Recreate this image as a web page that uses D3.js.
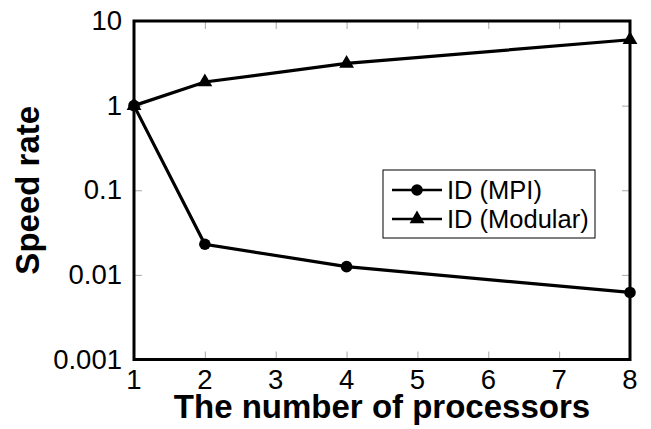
<!DOCTYPE html>
<html>
<head>
<meta charset="utf-8">
<script src="https://cdn.jsdelivr.net/npm/d3@7"></script>
<style>
  body { margin: 0; background: #fff; }
  text { font-family: "Liberation Sans", Arial, Helvetica, sans-serif; fill: #000; }
</style>
</head>
<body>
<div id="chart"></div>
<script>
// values
const processors = [1, 2, 4, 8];
const mpiRate = [1, 0.023, 0.0125, 0.0062];
const modularRate = [1, 1.9, 3.15, 6.0];
const xTicks = [1, 2, 3, 4, 5, 6, 7, 8];
const yTicks = [0.001, 0.01, 0.1, 1, 10];
const yTickLabels = ["0.001", "0.01", "0.1", "1", "10"];
const seriesNames = ["ID (MPI)", "ID (Modular)"];

const width = 651, height = 429;
const margin = {top: 21, right: 21, bottom: 69.5, left: 134};

const svg = d3.select("#chart")
  .append("svg")
    .attr("width", width)
    .attr("height", height);

const x = d3.scaleLinear()
  .domain([1, 8])
  .range([margin.left, width - margin.right]);

const y = d3.scaleLog()
  .domain([0.001, 10])
  .range([height - margin.bottom, margin.top]);

// grey inward ticks on all four sides
const tickLen = 8;
const tickColor = "#a8a8a8";

svg.append("g")
  .attr("transform", "translate(0," + (height - margin.bottom) + ")")
  .call(d3.axisBottom(x).tickValues(xTicks).tickSizeInner(-tickLen).tickSizeOuter(0).tickFormat(""))
  .call(g => g.select(".domain").remove())
  .call(g => g.selectAll("line").attr("stroke", tickColor));

svg.append("g")
  .attr("transform", "translate(0," + margin.top + ")")
  .call(d3.axisTop(x).tickValues(xTicks).tickSizeInner(-tickLen).tickSizeOuter(0).tickFormat(""))
  .call(g => g.select(".domain").remove())
  .call(g => g.selectAll("line").attr("stroke", tickColor));

svg.append("g")
  .attr("transform", "translate(" + margin.left + ",0)")
  .call(d3.axisLeft(y).tickValues(yTicks).tickSizeInner(-tickLen).tickSizeOuter(0).tickFormat(""))
  .call(g => g.select(".domain").remove())
  .call(g => g.selectAll("line").attr("stroke", tickColor));

svg.append("g")
  .attr("transform", "translate(" + (width - margin.right) + ",0)")
  .call(d3.axisRight(y).tickValues(yTicks).tickSizeInner(-tickLen).tickSizeOuter(0).tickFormat(""))
  .call(g => g.select(".domain").remove())
  .call(g => g.selectAll("line").attr("stroke", tickColor));

// frame
svg.append("rect")
  .attr("x", x(1))
  .attr("y", y(10))
  .attr("width", x(8) - x(1))
  .attr("height", y(0.001) - y(10))
  .attr("fill", "none")
  .attr("stroke", "#000")
  .attr("stroke-width", 3);

// tick labels
svg.selectAll(".x-label")
  .data(xTicks)
  .enter()
  .append("text")
    .attr("class", "x-label")
    .attr("x", d => x(d))
    .attr("y", 389)
    .attr("text-anchor", "middle")
    .style("font-size", "27.5px")
    .text(d => d);

svg.selectAll(".y-label")
  .data(yTicks)
  .enter()
  .append("text")
    .attr("class", "y-label")
    .attr("x", margin.left - 12)
    .attr("y", d => y(d))
    .attr("dy", "0.33em")
    .attr("text-anchor", "end")
    .style("font-size", "27.5px")
    .text((d, i) => yTickLabels[i]);

// axis titles
svg.append("text")
  .attr("x", (x(1) + x(8)) / 2)
  .attr("y", 418)
  .attr("text-anchor", "middle")
  .style("font-size", "33px")
  .style("font-weight", "bold")
  .text("The number of processors");

svg.append("text")
  .attr("transform", "translate(39," + ((y(10) + y(0.001)) / 2) + ") rotate(-90)")
  .attr("text-anchor", "middle")
  .style("font-size", "33px")
  .style("font-weight", "bold")
  .text("Speed rate");

// series
const line = d3.line()
  .x(d => x(d[0]))
  .y(d => y(d[1]));

const mpiData = processors.map((p, i) => [p, mpiRate[i]]);
const modularData = processors.map((p, i) => [p, modularRate[i]]);

const triangle = d3.symbol().type(d3.symbolTriangle).size(95);

svg.append("path")
  .datum(mpiData)
  .attr("d", line)
  .attr("fill", "none")
  .attr("stroke", "#000")
  .attr("stroke-width", 3.2);

svg.append("path")
  .datum(modularData)
  .attr("d", line)
  .attr("fill", "none")
  .attr("stroke", "#000")
  .attr("stroke-width", 3.2);

svg.selectAll(".mpi-point")
  .data(mpiData)
  .enter()
  .append("circle")
    .attr("class", "mpi-point")
    .attr("cx", d => x(d[0]))
    .attr("cy", d => y(d[1]))
    .attr("r", 5.8)
    .attr("fill", "#000");

svg.selectAll(".modular-point")
  .data(modularData)
  .enter()
  .append("path")
    .attr("class", "modular-point")
    .attr("d", triangle)
    .attr("transform", d => "translate(" + x(d[0]) + "," + y(d[1]) + ")")
    .attr("fill", "#000");

// legend
const legend = svg.append("g")
  .attr("transform", "translate(383,170)");

legend.append("rect")
  .attr("width", 212)
  .attr("height", 68)
  .attr("fill", "#fff")
  .attr("stroke", "#000")
  .attr("stroke-width", 1);

const legendRows = [20, 49];

legend.selectAll(".legend-line")
  .data(seriesNames)
  .enter()
  .append("line")
    .attr("class", "legend-line")
    .attr("x1", 9)
    .attr("x2", 59)
    .attr("y1", (d, i) => legendRows[i])
    .attr("y2", (d, i) => legendRows[i])
    .attr("stroke", "#000")
    .attr("stroke-width", 2.7);

legend.append("circle")
  .attr("cx", 34)
  .attr("cy", legendRows[0])
  .attr("r", 5.8)
  .attr("fill", "#000");

legend.append("path")
  .attr("d", triangle)
  .attr("transform", "translate(34," + legendRows[1] + ")")
  .attr("fill", "#000");

legend.selectAll(".legend-text")
  .data(seriesNames)
  .enter()
  .append("text")
    .attr("class", "legend-text")
    .attr("x", 64)
    .attr("y", (d, i) => legendRows[i])
    .attr("dy", "0.36em")
    .style("font-size", "25.5px")
    .text(d => d);
</script>
</body>
</html>
